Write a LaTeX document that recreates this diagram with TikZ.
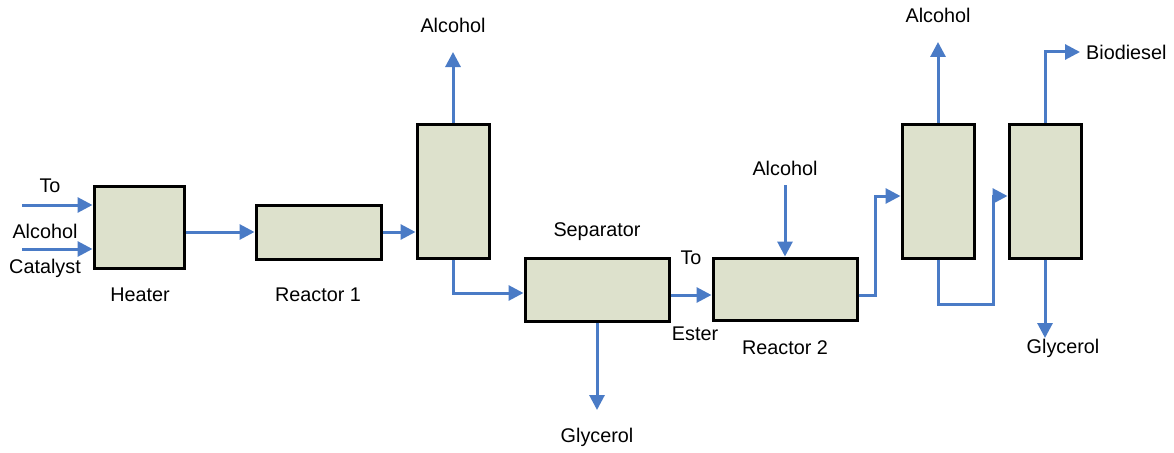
\documentclass[tikz,border=0pt]{standalone}
\usepackage{fontspec}
\setmainfont{Liberation Sans}
\usetikzlibrary{arrows.meta}
\definecolor{unitfill}{HTML}{DDE1CC}
\definecolor{flow}{HTML}{4A7BC6}
\begin{document}
\begin{tikzpicture}[x=1pt,y=-1pt,
  unit/.style={draw=black,line width=3pt,fill=unitfill,inner sep=0pt},
  stream/.style={draw=flow,line width=3pt,-{Triangle[length=15pt,width=15pt]}},
  lbl/.style={font=\fontsize{19.8}{22}\selectfont,inner sep=0pt}]
\useasboundingbox (0,0) rectangle (1174,452);
% process units
\node[unit,minimum width=90pt,minimum height=82pt] (heater) at (139,227) {};
\node[unit,minimum width=125pt,minimum height=54pt] (r1) at (318.5,232) {};
\node[unit,minimum width=72pt,minimum height=134pt] (c1) at (453,191) {};
\node[unit,minimum width=144pt,minimum height=63pt] (sep) at (597,289.5) {};
\node[unit,minimum width=144pt,minimum height=62pt] (r2) at (785,289) {};
\node[unit,minimum width=72pt,minimum height=134pt] (c2) at (938,191) {};
\node[unit,minimum width=72pt,minimum height=134pt] (c3) at (1045,191) {};
% labels
\node[lbl] (tTo) at (50,186) {To};
\node[lbl] (tAlc) at (45,231) {Alcohol};
\node[lbl] (tCat) at (45,268) {Catalyst};
\node[lbl] (tHeater) at (140,295) {Heater};
\node[lbl] (tR1) at (318,295) {Reactor 1};
\node[lbl] (tAlc1) at (453,25) {Alcohol};
\node[lbl] (tSep) at (597,232) {Separator};
\node[lbl] (tGly1) at (597,437) {Glycerol};
\node[lbl] (tTo2) at (691,258) {To};
\node[lbl] (tEster) at (695,334) {Ester};
\node[lbl] (tAlc2) at (785,168) {Alcohol};
\node[lbl] (tR2) at (785,348) {Reactor 2};
\node[lbl] (tAlc3) at (938,15) {Alcohol};
\node[lbl,anchor=west] (tBio) at (1086,52) {Biodiesel};
\node[lbl] (tGly2) at (1063,348) {Glycerol};
% stream end points
\coordinate (inTo) at (22,205);
\coordinate (inAlc) at (22,249);
\coordinate (c1top) at (453,52);
\coordinate (sepbot) at (597,410);
\coordinate (r2alc) at (785,185);
\coordinate (c2top) at (938,42);
\coordinate (c3top) at (1080,52);
\coordinate (c3bot) at (1045,338);
% streams
\draw[stream] (inTo) -- (inTo -| heater.west);
\draw[stream] (inAlc) -- (inAlc -| heater.west);
\draw[stream] (heater.east |- 0,232) -- (r1.west |- 0,232);
\draw[stream] (r1.east) -- (c1.west |- r1.east);
\draw[stream] (c1.north) -- (c1top);
\draw[stream] (c1.south) |- (sep.west |- 0,293);
\draw[stream] (sep.south) -- (sepbot);
\draw[stream] (sep.east |- 0,295) -- (r2.west |- 0,295);
\draw[stream] (r2alc) -- (r2.north);
\draw[stream] (r2.east |- 0,295) -- (875,295) -- (875,196) -- (c2.west |- 0,196);
\draw[stream] (c2.north) -- (c2top);
\draw[stream] (c2.south) -- (938,304) -- (993,304) -- (993,196) -- (c3.west |- 0,196);
\draw[stream] (c3.north) |- (c3top);
\draw[stream] (c3.south) -- (c3bot);
\end{tikzpicture}
\end{document}
